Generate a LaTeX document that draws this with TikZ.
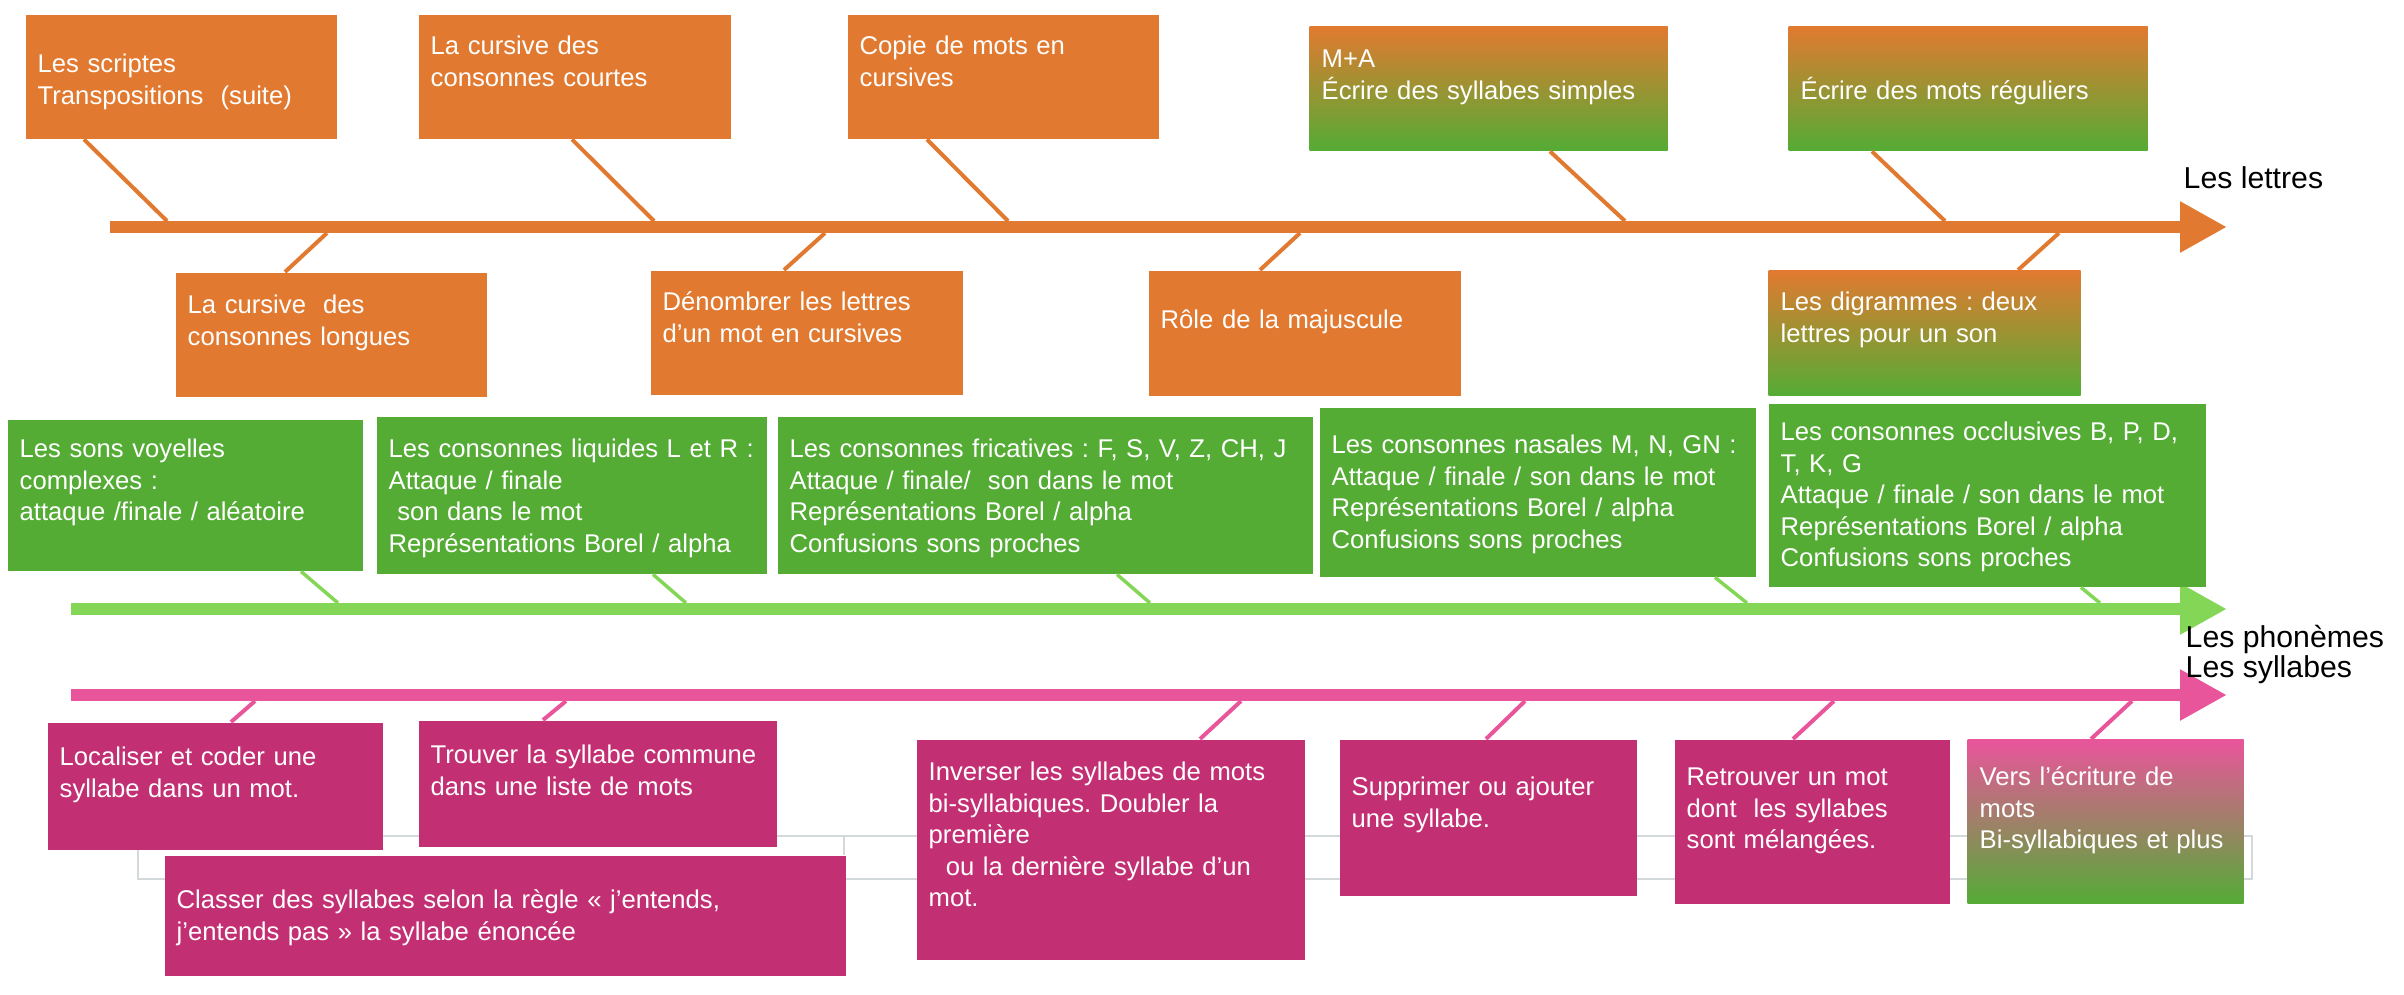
\documentclass[tikz,border=0pt]{standalone}
\usepackage{fontspec}
\setmainfont{Liberation Sans}
\usetikzlibrary{arrows.meta}
\frenchspacing

\definecolor{orangeL}{HTML}{E17A30}
\definecolor{greenB}{HTML}{54AC35}
\definecolor{greenA}{HTML}{84D657}
\definecolor{pinkA}{HTML}{E9559B}
\definecolor{magB}{HTML}{C23073}
\definecolor{greyL}{HTML}{D3D8DB}

\newcommand{\boxfont}{\fontsize{7.3}{8.96}\selectfont}
\newcommand{\labelfont}{\fontsize{8.6}{8.5}\selectfont}

\tikzset{
  box/.style={anchor=north west, inner xsep=1.2mm, inner ysep=0pt, align=left, text=white, font=\boxfont},
  obox/.style={box, fill=orangeL},
  gbox/.style={box, fill=greenB},
  pbox/.style={box, fill=magB},
  ogbox/.style={box, top color=orangeL, bottom color=greenB},
  pgbox/.style={box, top color=pinkA, bottom color=greenB},
  dims/.style n args={3}{text width=#1mm, text height=#2mm, text depth=#3mm},
  oline/.style={orangeL, line width=0.4mm},
  gline/.style={greenA, line width=0.35mm},
  pline/.style={pinkA, line width=0.4mm},
  axis/.style={line width=1.2mm, -{Triangle[length=4.7mm,width=4.8mm]}},
  axlabel/.style={anchor=base west, inner sep=0pt, font=\labelfont},
  greyline/.style={draw=greyL, line width=0.15mm}
}

\begin{document}
\begin{tikzpicture}[x=0.1mm,y=-0.1mm]
	\useasboundingbox (0,0) rectangle (2404,994);
	% grey frame behind the syllable boxes
	\draw[greyline] (138,836) rectangle (2252,879);
	\draw[greyline] (844,836) -- (844,855);
	%
	% the three axes
	\coordinate (lS) at (110,227);
	\coordinate (lE) at (2227,227);
	\coordinate (fS) at (71,609);
	\coordinate (fE) at (2227,609);
	\coordinate (sS) at (71,695);
	\coordinate (sE) at (2227,695);
		\draw[axis, orangeL] (lS) -- (lE);
		\draw[axis, greenA] (fS) -- (fE);
		\draw[axis, pinkA] (sS) -- (sE);
	\node[axlabel] (tl) at (2183,188) {Les lettres};
	\node[axlabel] (tf) at (2185,647) {Les phonèmes};
	\node[axlabel] (ts) at (2185,677) {Les syllabes};
	%
	% les lettres, above
	\node[obox, dims={28.7}{5.8}{6.6}] (l1) at (25,14) {Les scriptes\\Transpositions\ \ (suite)};
	\node[obox, dims={28.8}{4.0}{8.4}] (l2) at (418,14) {La cursive des\\consonnes courtes};
	\node[obox, dims={28.7}{4.0}{8.4}] (l3) at (847,14) {Copie de mots en\\cursives};
	\node[ogbox, dims={33.4}{4.1}{8.3}] (l4) at (1309,26) {M+A\\Écrire des syllabes simples};
	\node[ogbox, dims={33.5}{7.3}{5.1}] (l5) at (1788,26) {Écrire des mots réguliers};
	% les lettres, below
	\node[obox, dims={28.7}{4.1}{8.3}] (l6) at (175,272) {La cursive\ \ des\\consonnes longues};
	\node[obox, dims={28.8}{4.0}{8.4}] (l7) at (650,270) {Dénombrer les lettres\\d’un mot en cursives};
	\node[obox, dims={28.8}{5.8}{6.7}] (l8) at (1148,270) {Rôle de la majuscule};
	\node[ogbox, dims={28.8}{4.0}{8.5}] (l9) at (1768,270) {Les digrammes : deux\\lettres pour un son};
	%
	\coordinate (al1) at (167,221);
	\coordinate (al2) at (654,221);
	\coordinate (al3) at (1008,221);
	\coordinate (al4) at (1625,221);
	\coordinate (al5) at (1945,221);
	\coordinate (al6) at (327,233);
	\coordinate (al7) at (825,233);
	\coordinate (al8) at (1300,233);
	\coordinate (al9) at (2059,233);
		\draw[oline] ([xshift=5.9mm]l1.south west) -- (al1);
		\draw[oline] ([xshift=15.4mm]l2.south west) -- (al2);
		\draw[oline] ([xshift=8.0mm]l3.south west) -- (al3);
		\draw[oline] ([xshift=24.1mm]l4.south west) -- (al4);
		\draw[oline] ([xshift=8.4mm]l5.south west) -- (al5);
		\draw[oline] (al6) -- ([xshift=11.0mm]l6.north west);
		\draw[oline] (al7) -- ([xshift=13.4mm]l7.north west);
		\draw[oline] (al8) -- ([xshift=11.2mm]l8.north west);
		\draw[oline] (al9) -- ([xshift=25.0mm]l9.north west);
	%
	% les phonemes
	\node[gbox, dims={33.1}{3.8}{11.3}] (g1) at (7,419) {Les sons voyelles\\complexes :\\attaque /finale / aléatoire};
	\node[gbox, dims={36.6}{4.1}{11.6}] (g2) at (376,416) {Les consonnes liquides L et R :\\Attaque / finale\\\ son dans le mot\\Représentations Borel / alpha};
	\node[gbox, dims={51.1}{4.1}{11.6}] (g3) at (777,416) {Les consonnes fricatives : F, S, V, Z, CH, J\\Attaque / finale/\ \ son dans le mot\\Représentations Borel / alpha\\Confusions sons proches};
	\node[gbox, dims={41.2}{4.6}{12.3}] (g4) at (1319,407) {Les consonnes nasales M, N, GN :\\Attaque / finale / son dans le mot\\Représentations Borel / alpha\\Confusions sons proches};
	\node[gbox, dims={41.3}{3.7}{14.6}] (g5) at (1768,403) {Les consonnes occlusives B, P, D,\\T, K, G\\Attaque / finale / son dans le mot\\Représentations Borel / alpha\\Confusions sons proches};
	%
	\coordinate (af1) at (338,603);
	\coordinate (af2) at (686,603);
	\coordinate (af3) at (1150,603);
	\coordinate (af4) at (1747,603);
	\coordinate (af5) at (2100,603);
		\draw[gline] ([xshift=29.4mm]g1.south west) -- (af1);
		\draw[gline] ([xshift=27.7mm]g2.south west) -- (af2);
		\draw[gline] ([xshift=34.0mm]g3.south west) -- (af3);
		\draw[gline] ([xshift=39.6mm]g4.south west) -- (af4);
		\draw[gline] ([xshift=31.3mm]g5.south west) -- (af5);
	%
	% les syllabes
	\node[pbox, dims={31.1}{4.3}{8.4}] (p1) at (47,722) {Localiser et coder une\\syllabe dans un mot.};
	\node[pbox, dims={33.4}{4.3}{8.3}] (p2) at (418,720) {Trouver la syllabe commune\\dans une liste de mots};
	\node[pbox, dims={65.7}{5.3}{6.7}] (p3) at (164,855) {Classer des syllabes selon la règle « j’entends,\\j’entends pas » la syllabe énoncée};
	\node[pbox, dims={36.4}{4.1}{17.9}] (p4) at (916,739) {Inverser les syllabes de mots\\bi-syllabiques. Doubler la\\première\\\ \ ou la dernière syllabe d’un\\mot.};
	\node[pbox, dims={27.3}{5.6}{10.0}] (p5) at (1339,739) {Supprimer ou ajouter\\une syllabe.};
	\node[pbox, dims={25.1}{4.6}{11.8}] (p6) at (1674,739) {Retrouver un mot\\dont\ \ les syllabes\\sont mélangées.};
	\node[pgbox, dims={25.2}{4.6}{11.8}] (p7) at (1967,739) {Vers l’écriture de\\mots\\Bi-syllabiques et plus};
	%
	\coordinate (as1) at (255,701);
	\coordinate (as2) at (566,701);
	\coordinate (as4) at (1241,701);
	\coordinate (as5) at (1525,701);
	\coordinate (as6) at (1834,701);
	\coordinate (as7) at (2132,701);
		\draw[pline] (as1) -- ([xshift=18.4mm]p1.north west);
		\draw[pline] (as2) -- ([xshift=12.5mm]p2.north west);
		\draw[pline] (as4) -- ([xshift=28.4mm]p4.north west);
		\draw[pline] (as5) -- ([xshift=14.7mm]p5.north west);
		\draw[pline] (as6) -- ([xshift=11.9mm]p6.north west);
		\draw[pline] (as7) -- ([xshift=12.4mm]p7.north west);
\end{tikzpicture}
\end{document}
